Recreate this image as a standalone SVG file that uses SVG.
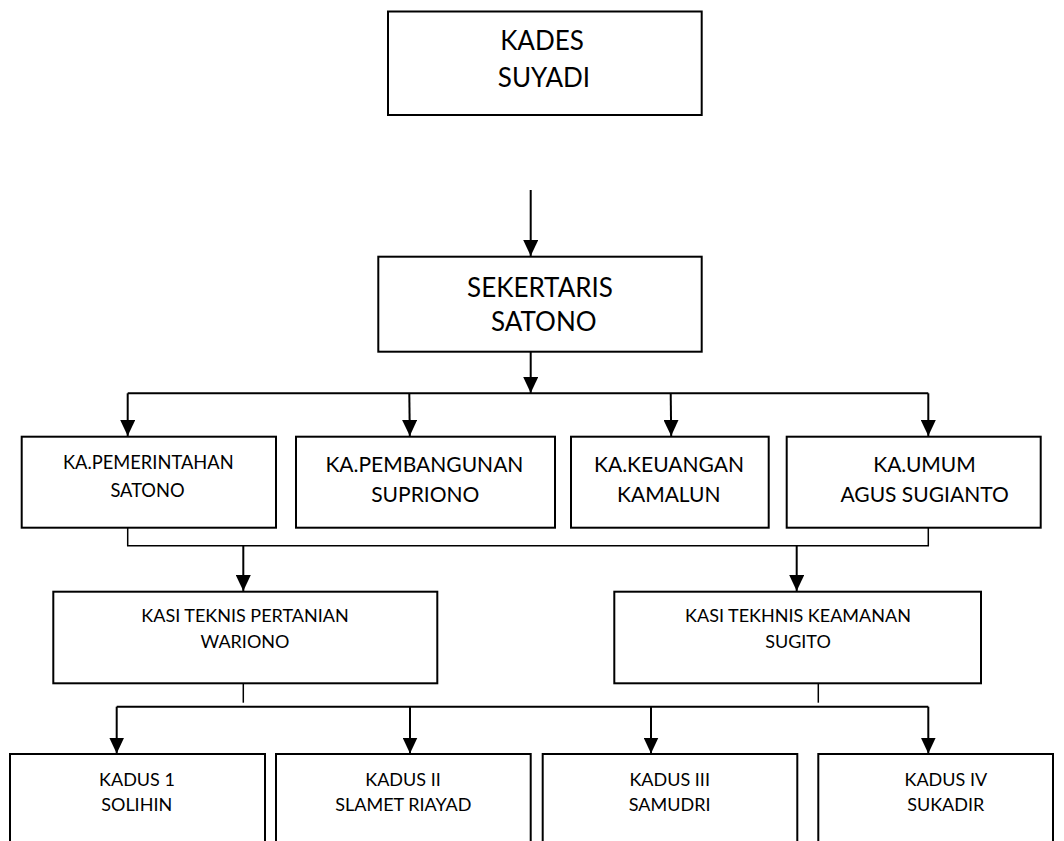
<svg xmlns="http://www.w3.org/2000/svg" width="1064" height="841" viewBox="0 0 1064 841">
<style>
.box{fill:#fff;stroke:#000;stroke-width:2}
.t{font-family:Lato,"Open Sans","Liberation Sans",sans-serif;fill:#000;text-anchor:middle}
.big{font-size:26px}
.med{font-size:21px}
.sm{font-size:18.3px}
.xs{font-size:18px}
.c{fill:none;stroke:#000;stroke-width:2}
.ca{fill:none;stroke:#000;stroke-width:2;marker-end:url(#ah)}
.thin{fill:none;stroke:#000;stroke-width:1.5}
</style>
<defs>
<marker id="ah" viewBox="0 0 16 15" refX="16" refY="7.5" markerWidth="16" markerHeight="15" markerUnits="userSpaceOnUse" orient="auto">
<path d="M0,0 L16,7.5 L0,15 z" fill="#000"/>
</marker>
</defs>
<rect width="1064" height="841" fill="#fff"/>
<g id="connectors">
<path class="ca" d="M530.7,190 V256"/>
<path class="ca" d="M530.7,352 V393"/>
<path class="ca" d="M127.7,393.3 V436"/>
<path class="c" d="M127.7,393.3 H928.3"/>
<path class="ca" d="M928.3,393.3 V436"/>
<path class="ca" d="M409.3,393.3 L409.8,436"/>
<path class="ca" d="M670.7,393.3 L671.2,436"/>
<path class="thin" d="M127.7,501.7 V545.7 H928.3 V501.7"/>
<path class="ca" d="M243.3,545.7 V591"/>
<path class="ca" d="M796.7,545.7 V591"/>
<path class="thin" d="M243.3,681.7 V702.7"/>
<path class="thin" d="M818.3,681.7 V702.7"/>
<path class="ca" d="M116.7,706.7 V753.5"/>
<path class="c" d="M116.7,706.7 H928.3"/>
<path class="ca" d="M928.3,706.7 V753.5"/>
<path class="ca" d="M410,706.7 V753.5"/>
<path class="ca" d="M651,706.7 V753.5"/>
</g>
<g id="kades">
<rect class="box" x="388" y="11.5" width="313.7" height="103.5"/>
<text class="t big" x="542" y="50">KADES</text>
<text class="t big" x="544" y="87.3">SUYADI</text>
</g>
<g id="sekertaris">
<rect class="box" x="378.3" y="256.7" width="323.4" height="95"/>
<text class="t big" x="540" y="296.7" font-size="25.5">SEKERTARIS</text>
<text class="t big" x="543.8" y="331" font-size="25.5">SATONO</text>
</g>
<g id="pemerintahan">
<rect class="box" x="21.7" y="436.7" width="254.3" height="91"/>
<text class="t sm" x="148.3" y="469">KA.PEMERINTAHAN</text>
<text class="t sm" x="147.5" y="497">SATONO</text>
</g>
<g id="pembangunan">
<rect class="box" x="296" y="436.7" width="259" height="91"/>
<text class="t med" x="424.4" y="472">KA.PEMBANGUNAN</text>
<text class="t med" x="425.3" y="501.5">SUPRIONO</text>
</g>
<g id="keuangan">
<rect class="box" x="571" y="436.7" width="197.7" height="91"/>
<text class="t med" x="669" y="472">KA.KEUANGAN</text>
<text class="t med" x="668.8" y="501.5">KAMALUN</text>
</g>
<g id="umum">
<rect class="box" x="786.7" y="436.7" width="254" height="91"/>
<text class="t med" x="924.5" y="472">KA.UMUM</text>
<text class="t med" x="924.6" y="501.5">AGUS SUGIANTO</text>
</g>
<g id="kasi-pertanian">
<rect class="box" x="53.3" y="591.7" width="384" height="91.6"/>
<text class="t xs" x="245" y="622.3">KASI TEKNIS PERTANIAN</text>
<text class="t xs" x="245" y="648.3">WARIONO</text>
</g>
<g id="kasi-keamanan">
<rect class="box" x="614.3" y="591.7" width="366.7" height="91.6"/>
<text class="t xs" x="798" y="622.3">KASI TEKHNIS KEAMANAN</text>
<text class="t xs" x="798" y="648.3">SUGITO</text>
</g>
<g id="kadus1">
<rect class="box" x="10" y="754" width="255" height="100"/>
<text class="t xs" x="137" y="785.7">KADUS 1</text>
<text class="t xs" x="136.7" y="810.7">SOLIHIN</text>
</g>
<g id="kadus2">
<rect class="box" x="276" y="754" width="254.7" height="100"/>
<text class="t xs" x="403" y="785.7">KADUS II</text>
<text class="t xs" x="403.3" y="810.7">SLAMET RIAYAD</text>
</g>
<g id="kadus3">
<rect class="box" x="542.7" y="754" width="254.6" height="100"/>
<text class="t xs" x="669.7" y="785.7">KADUS III</text>
<text class="t xs" x="669.7" y="810.7">SAMUDRI</text>
</g>
<g id="kadus4">
<rect class="box" x="818.3" y="754" width="234.7" height="100"/>
<text class="t xs" x="945.8" y="785.7">KADUS IV</text>
<text class="t xs" x="945.7" y="810.7">SUKADIR</text>
</g>
</svg>
